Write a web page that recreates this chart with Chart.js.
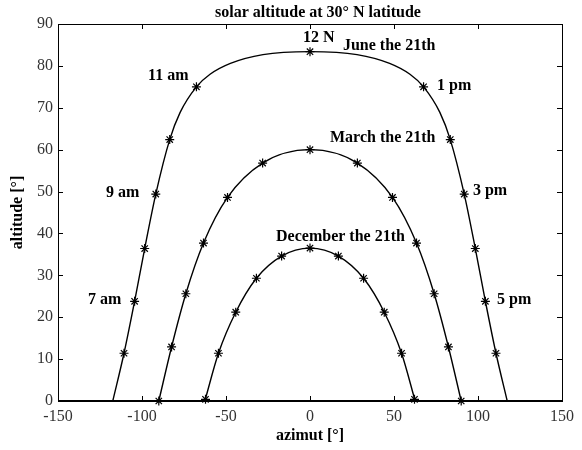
<!DOCTYPE html>
<html>
<head>
<meta charset="utf-8">
<script src="https://cdn.jsdelivr.net/npm/chart.js@4/dist/chart.umd.min.js"></script>
<style>
  html, body { margin: 0; padding: 0; background: #fff; }
</style>
</head>
<body>
<canvas id="chart" width="582" height="450"></canvas>
<script>
// Hourly sun positions (azimut / altitude, degrees)
const juneMarkAz = [-110.7, -104.4, -98.4, -91.8, -83.5, -67.6, 0, 67.6, 83.5, 91.8, 98.4, 104.4, 110.7];
const juneMarkAlt = [11.4, 23.8, 36.4, 49.4, 62.4, 75.0, 83.4, 75.0, 62.4, 49.4, 36.4, 23.8, 11.4];
const marchMarkAz = [-90, -82.4, -73.9, -63.4, -49.1, -28.2, 0, 28.2, 49.1, 63.4, 73.9, 82.4, 90];
const marchMarkAlt = [0, 12.9, 25.6, 37.7, 48.6, 56.8, 60.0, 56.8, 48.6, 37.7, 25.6, 12.9, 0];
const decMarkAz = [-62.2, -54.5, -44.2, -31.9, -16.9, 0, 16.9, 31.9, 44.2, 54.5, 62.2];
const decMarkAlt = [0.4, 11.4, 21.2, 29.3, 34.6, 36.5, 34.6, 29.3, 21.2, 11.4, 0.4];

// Sun path curves (hourly points plus a few extra points)
const juneLineAz = [-117.4, -110.7, -104.4, -98.4, -91.8, -83.5, -77.3, -67.6, -59.5, -47.4, -28.0, 0,
                    28.0, 47.4, 59.5, 67.6, 77.3, 83.5, 91.8, 98.4, 104.4, 110.7, 117.4];
const juneLineAlt = [0, 11.4, 23.8, 36.4, 49.4, 62.4, 68.9, 75.0, 78.0, 80.6, 82.7, 83.4,
                     82.7, 80.6, 78.0, 75.0, 68.9, 62.4, 49.4, 36.4, 23.8, 11.4, 0];
const marchLineAz = marchMarkAz;
const marchLineAlt = marchMarkAlt;
const decLineAz = [-62.6, -54.5, -44.2, -31.9, -16.9, 0, 16.9, 31.9, 44.2, 54.5, 62.6];
const decLineAlt = [0, 11.4, 21.2, 29.3, 34.6, 36.5, 34.6, 29.3, 21.2, 11.4, 0];

// Text labels in the plot (left edge / middle, in axis units)
const noteText = ['12 N', 'June the 21th', '11 am', '1 pm', 'March the 21th', '9 am', '3 pm',
                  'December the 21th', '7 am', '5 pm'];
const noteAz = [-4.2, 19.6, -96.4, 75.6, 11.9, -121.4, 97.0, -20.2, -132.1, 111.3];
const noteAlt = [86.7, 84.7, 77.6, 75.2, 62.8, 49.7, 50.1, 39.2, 24.1, 24.1];

const titleText = 'solar altitude at 30\u00b0 N latitude';
const xTitle = 'azimut [\u00b0]';
const yTitle = 'altitude [\u00b0]';

const SERIF = "'Liberation Serif', 'Times New Roman', serif";

const toPoints = (xs, ys) => xs.map((x, i) => ({ x, y: ys[i] }));

function lineSet(xs, ys) {
    return {
        data: toPoints(xs, ys),
        showLine: true,
        borderColor: '#000',
        borderWidth: 1.4,
        pointRadius: 0,
        cubicInterpolationMode: 'monotone',
        clip: false
    };
}

function markSet(xs, ys) {
    return {
        data: toPoints(xs, ys),
        showLine: false,
        pointStyle: 'star',
        pointRadius: 4.5,
        borderColor: '#000',
        borderWidth: 1.2,
        clip: false
    };
}

// frame, inward ticks, title and notes
const decorations = {
    id: 'decorations',
    afterDraw(chart) {
        const ctx = chart.ctx;
        const a = chart.chartArea;
        const xs = chart.scales.x;
        const ys = chart.scales.y;
        const tick = 5;

        ctx.save();
        ctx.strokeStyle = '#000';
        ctx.lineWidth = 1;
        ctx.strokeRect(a.left + 0.5, a.top + 0.5, a.right - a.left, a.bottom - a.top);
        ctx.lineWidth = 2;
        ctx.beginPath();
        ctx.moveTo(a.left, a.bottom);
        ctx.lineTo(a.right + 1, a.bottom);
        ctx.stroke();

        ctx.lineWidth = 1;
        ctx.beginPath();
        xs.ticks.forEach(t => {
            const px = Math.round(xs.getPixelForValue(t.value)) + 0.5;
            ctx.moveTo(px, a.bottom);
            ctx.lineTo(px, a.bottom - tick);
            ctx.moveTo(px, a.top);
            ctx.lineTo(px, a.top + tick);
        });
        ys.ticks.forEach(t => {
            const py = Math.round(ys.getPixelForValue(t.value)) + 0.5;
            ctx.moveTo(a.left, py);
            ctx.lineTo(a.left + tick, py);
            ctx.moveTo(a.right, py);
            ctx.lineTo(a.right - tick, py);
        });
        ctx.stroke();

        ctx.fillStyle = '#000';
        ctx.textBaseline = 'middle';

        ctx.font = 'bold 16px ' + SERIF;
        ctx.textAlign = 'center';
        ctx.fillText(titleText, (a.left + a.right) / 2 + 8, 13);

        ctx.fillText(xTitle, (a.left + a.right) / 2, 436);

        ctx.save();
        ctx.translate(18, (a.top + a.bottom) / 2);
        ctx.rotate(-Math.PI / 2);
        ctx.fillText(yTitle, 0, 0);
        ctx.restore();

        ctx.textAlign = 'left';
        noteText.forEach((txt, i) => {
            ctx.fillText(txt, xs.getPixelForValue(noteAz[i]), ys.getPixelForValue(noteAlt[i]));
        });
        ctx.restore();
    }
};

const tickFont = { family: SERIF, size: 16 };

new Chart(document.getElementById('chart'), {
    type: 'scatter',
    data: {
        datasets: [
            lineSet(juneLineAz, juneLineAlt),
            lineSet(marchLineAz, marchLineAlt),
            lineSet(decLineAz, decLineAlt),
            markSet(juneMarkAz, juneMarkAlt),
            markSet(marchMarkAz, marchMarkAlt),
            markSet(decMarkAz, decMarkAlt)
        ]
    },
    options: {
        responsive: false,
        animation: false,
        devicePixelRatio: 1,
        layout: { padding: { top: 24, right: 20, left: 0, bottom: 0 } },
        plugins: {
            legend: { display: false },
            tooltip: { enabled: false },
            title: { display: false }
        },
        scales: {
            x: {
                type: 'linear',
                min: -150,
                max: 150,
                ticks: { stepSize: 50, padding: 6, color: '#333', font: tickFont, maxRotation: 0 },
                grid: { display: false, drawTicks: false },
                border: { display: false },
                afterFit: s => { s.height = 49; }
            },
            y: {
                type: 'linear',
                min: 0,
                max: 90,
                ticks: { stepSize: 10, padding: 5, color: '#333', font: tickFont },
                grid: { display: false, drawTicks: false },
                border: { display: false },
                afterFit: s => { s.width = 58; }
            }
        }
    },
    plugins: [decorations]
});
</script>
</body>
</html>
